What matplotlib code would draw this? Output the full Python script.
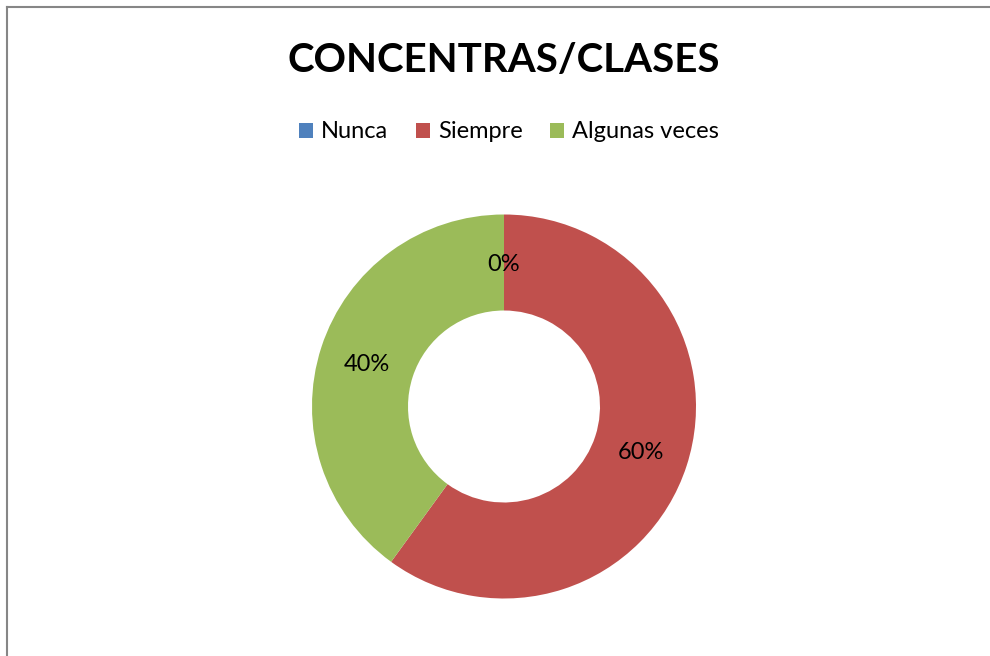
import matplotlib
matplotlib.use("Agg")
import matplotlib.pyplot as plt
from matplotlib.lines import Line2D
from matplotlib.patches import Patch
import matplotlib.transforms as mtransforms

title = "CONCENTRAS/CLASES"
categories = ["Nunca", "Siempre", "Algunas veces"]
values = [0, 60, 40]
colors = ["#4F81BD", "#C0504D", "#9BBB59"]

W, H = 990, 656
fig = plt.figure(figsize=(W / 100, H / 100), dpi=100)
plt.rcParams['font.family'] = ['Lato', 'DejaVu Sans']

# donut: center (504, 406.5) px, radius 192 px
cx, cy, R = 504, 406.5, 192
ax = fig.add_axes([(cx - R) / W, (H - cy - R) / H, 2 * R / W, 2 * R / H])
wedges, texts, autotexts = ax.pie(
    values, colors=colors, startangle=90, counterclock=False,
    radius=1.0, autopct=lambda p: f"{p:.0f}%", pctdistance=0.75,
    wedgeprops=dict(width=0.5, edgecolor="none"),
    textprops=dict(fontsize=17, color="black"))
ax.set_xlim(-1, 1)
ax.set_ylim(-1, 1)
ax.set_aspect("equal")
ax.axis("off")
shift = mtransforms.ScaledTranslation(0, -2 / 100, fig.dpi_scale_trans)
for t in autotexts:
    t.set_transform(t.get_transform() + shift)

fig.text(cx / W, 1 - 61 / H, title, ha="center", va="center",
         fontsize=29, fontweight="bold")

handles = [Patch(facecolor=c, edgecolor="none") for c in colors]
leg = fig.legend(handles, categories, loc="center", bbox_to_anchor=(509 / W, 1 - 132 / H),
                 ncol=3, frameon=False, fontsize=17, handlelength=0.6, handleheight=0.6,
                 handletextpad=0.35, columnspacing=1.15)

# chart border
fig.add_artist(Line2D([7 / W, 7 / W], [0, 1 - 7 / H], color="#868686", lw=1.5,
                      transform=fig.transFigure))
fig.add_artist(Line2D([7 / W, 1], [1 - 7 / H, 1 - 7 / H], color="#868686", lw=1.5,
                      transform=fig.transFigure))

fig.savefig("out.png", dpi=100)
